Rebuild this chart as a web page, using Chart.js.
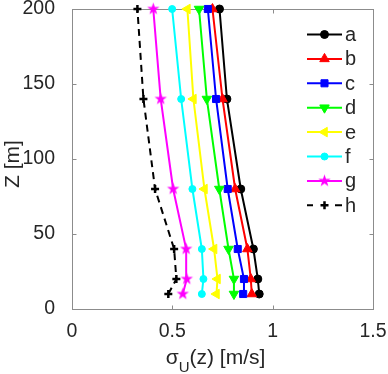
<!DOCTYPE html>
<html><head><meta charset="utf-8">
<script src="https://cdn.jsdelivr.net/npm/chart.js@4.4.1/dist/chart.umd.min.js"></script>
<style>html,body{margin:0;padding:0;background:#fff}canvas{display:block}</style>
</head><body>
<canvas id="c" width="388" height="374"></canvas>
<script>
// ---- data ----
const heights = [10, 20, 40, 80, 140, 200];
const seriesNames = ['a', 'b', 'c', 'd', 'e', 'f', 'g', 'h'];
const seriesA = [0.933, 0.926, 0.904, 0.841, 0.772, 0.735];
const seriesB = [0.896, 0.891, 0.874, 0.813, 0.750, 0.700];
const seriesC = [0.853, 0.857, 0.826, 0.776, 0.718, 0.677];
const seriesD = [0.807, 0.807, 0.780, 0.734, 0.672, 0.633];
const seriesE = [0.720, 0.725, 0.708, 0.660, 0.605, 0.575];
const seriesF = [0.647, 0.655, 0.647, 0.600, 0.544, 0.499];
const seriesG = [0.552, 0.572, 0.569, 0.504, 0.442, 0.405];
const seriesH = [0.480, 0.520, 0.509, 0.414, 0.356, 0.326];
const xTickValues = [0, 0.5, 1, 1.5];
const yTickValues = [0, 50, 100, 150, 200];
const xTitleMain = 'σ', xTitleSub = 'U', xTitleRest = '(z) [m/s]';
const yTitle = 'Z [m]';

// ---- styles ----
const FONT = '"Liberation Sans", Arial, Helvetica, sans-serif';
const TEXT = '#262626';
const AXIS = '#8c8c8c';

function makeStar(color, R) {
  const s = Math.ceil(R * 2 + 2);
  const c = document.createElement('canvas');
  c.width = s; c.height = s;
  const g = c.getContext('2d');
  g.fillStyle = color;
  g.beginPath();
  for (let i = 0; i < 10; i++) {
    const r = i % 2 ? R * 0.4 : R;
    const a = -Math.PI / 2 + i * Math.PI / 5;
    g.lineTo(s / 2 + r * Math.cos(a), s / 2 + r * Math.sin(a));
  }
  g.closePath(); g.fill();
  return c;
}
const starImg = makeStar('#ff00ff', 6.5);

const styles = [
  {color: '#000000', pointStyle: 'circle', rotation: 0, radius: 4, mb: 1, dash: []},
  {color: '#ff0000', pointStyle: 'triangle', rotation: 0, radius: 5.5, mb: 1, dash: []},
  {color: '#0000ff', pointStyle: 'rect', rotation: 0, radius: 5, mb: 1, dash: []},
  {color: '#00ff00', pointStyle: 'triangle', rotation: 180, radius: 5.5, mb: 1, dash: []},
  {color: '#ffff00', pointStyle: 'triangle', rotation: -90, radius: 5.5, mb: 1, dash: []},
  {color: '#00ffff', pointStyle: 'circle', rotation: 0, radius: 3.5, mb: 1, dash: []},
  {color: '#ff00ff', pointStyle: starImg, rotation: 0, radius: 6, mb: 0, dash: []},
  {color: '#000000', pointStyle: 'cross', rotation: 0, radius: 4, mb: 2.5, dash: [7, 5]}
];
const allSeries = [seriesA, seriesB, seriesC, seriesD, seriesE, seriesF, seriesG, seriesH];

const datasets = allSeries.map((vals, i) => {
  const st = styles[i];
  return {
    label: seriesNames[i],
    data: vals.map((v, k) => ({x: v, y: heights[k]})),
    showLine: true,
    borderColor: st.color,
    backgroundColor: st.color,
    borderWidth: 2,
    borderDash: st.dash,
    pointStyle: st.pointStyle,
    pointRotation: st.rotation,
    pointRadius: st.radius,
    pointBorderWidth: st.mb,
    pointBorderColor: st.color,
    pointBackgroundColor: st.color,
    clip: false,
    order: allSeries.length - i
  };
});

function drawMarker(ctx, st, x, y) {
  ctx.save();
  ctx.setLineDash([]);
  ctx.fillStyle = st.color; ctx.strokeStyle = st.color; ctx.lineWidth = st.mb;
  Chart.helpers.drawPoint(ctx, {pointStyle: st.pointStyle, rotation: st.rotation, radius: st.radius, borderWidth: st.mb}, x, y);
  ctx.restore();
}

const decor = {
  id: 'decor',
  beforeDatasetsDraw(chart) {
    const {ctx, chartArea: a, scales} = chart;
    ctx.save();
    ctx.strokeStyle = AXIS; ctx.lineWidth = 1;
    const L = Math.round(a.left) + 0.5, R = Math.round(a.right) + 0.5;
    const T = Math.round(a.top) + 0.5, B = Math.round(a.bottom) + 0.5;
    ctx.strokeRect(L, T, R - L, B - T);
    const tl = 4;
    ctx.beginPath();
    xTickValues.forEach(v => {
      const px = Math.round(scales.x.getPixelForValue(v)) + 0.5;
      ctx.moveTo(px, B); ctx.lineTo(px, B - tl);
      ctx.moveTo(px, T); ctx.lineTo(px, T + tl);
    });
    yTickValues.forEach(v => {
      const py = Math.round(scales.y.getPixelForValue(v)) + 0.5;
      ctx.moveTo(L, py); ctx.lineTo(L + tl, py);
      ctx.moveTo(R, py); ctx.lineTo(R - tl, py);
    });
    ctx.stroke();
    ctx.restore();
  },
  afterDraw(chart) {
    const {ctx, chartArea: a} = chart;
    ctx.save();
    ctx.fillStyle = TEXT;
    // x title
    const mainF = '21px ' + FONT, subF = '15px ' + FONT;
    ctx.font = mainF; const w1 = ctx.measureText(xTitleMain).width; const w3 = ctx.measureText(xTitleRest).width;
    ctx.font = subF; const w2 = ctx.measureText(xTitleSub).width;
    const total = w1 + w2 + w3;
    let x0 = (a.left + a.right) / 2 - total / 2 - 7;
    const base = 364;
    ctx.textBaseline = 'alphabetic'; ctx.textAlign = 'left';
    ctx.font = mainF; ctx.fillText(xTitleMain, x0, base);
    ctx.font = subF; ctx.fillText(xTitleSub, x0 + w1, base + 8);
    ctx.font = mainF; ctx.fillText(xTitleRest, x0 + w1 + w2, base);
    // y title
    ctx.save();
    ctx.translate(19, 164);
    ctx.rotate(-Math.PI / 2);
    ctx.textAlign = 'center'; ctx.textBaseline = 'alphabetic';
    ctx.font = mainF;
    ctx.fillText(yTitle, 0, 0);
    ctx.restore();
    // legend
    const lx0 = 307, lx1 = 342, mx = 324.5, tx = 345;
    ctx.font = '20px ' + FONT;
    ctx.textBaseline = 'middle'; ctx.textAlign = 'left';
    styles.forEach((st, i) => {
      const y = 34.5 + i * 24.4;
      ctx.save();
      ctx.strokeStyle = st.color; ctx.lineWidth = 2;
      if (st.dash.length) {
        ctx.beginPath(); ctx.moveTo(lx0, y); ctx.lineTo(lx0 + 6, y); ctx.moveTo(lx1 - 7, y); ctx.lineTo(lx1, y); ctx.stroke();
      } else {
        ctx.beginPath(); ctx.moveTo(lx0, y); ctx.lineTo(lx1, y); ctx.stroke();
      }
      ctx.restore();
      drawMarker(ctx, st, mx, y);
      ctx.fillStyle = TEXT;
      ctx.fillText(seriesNames[i], tx, y + 1);
    });
    ctx.restore();
  }
};

new Chart(document.getElementById('c'), {
  type: 'scatter',
  data: {datasets},
  options: {
    responsive: false,
    animation: false,
    events: [],
    layout: {padding: {top: 9, right: 15, left: 0, bottom: 0}},
    plugins: {legend: {display: false}, tooltip: {enabled: false}},
    scales: {
      x: {
        type: 'linear', min: 0, max: 1.5,
        afterBuildTicks: s => { s.ticks = xTickValues.map(v => ({value: v})); },
        afterFit: s => { s.height = 65; s.paddingLeft = 0; s.paddingRight = 0; },
        grid: {display: false}, border: {display: false},
        ticks: {color: TEXT, font: {family: FONT, size: 19.5}, padding: 3, maxRotation: 0, autoSkip: false,
                callback: v => String(v)}
      },
      y: {
        type: 'linear', min: 0, max: 200,
        afterBuildTicks: s => { s.ticks = yTickValues.map(v => ({value: v})); },
        afterFit: s => { s.width = 72; s.paddingTop = 0; s.paddingBottom = 0; },
        grid: {display: false}, border: {display: false},
        ticks: {color: TEXT, font: {family: FONT, size: 19.5}, padding: 9, autoSkip: false,
                callback: v => String(v)}
      }
    }
  },
  plugins: [decor]
});
</script>
</body></html>
